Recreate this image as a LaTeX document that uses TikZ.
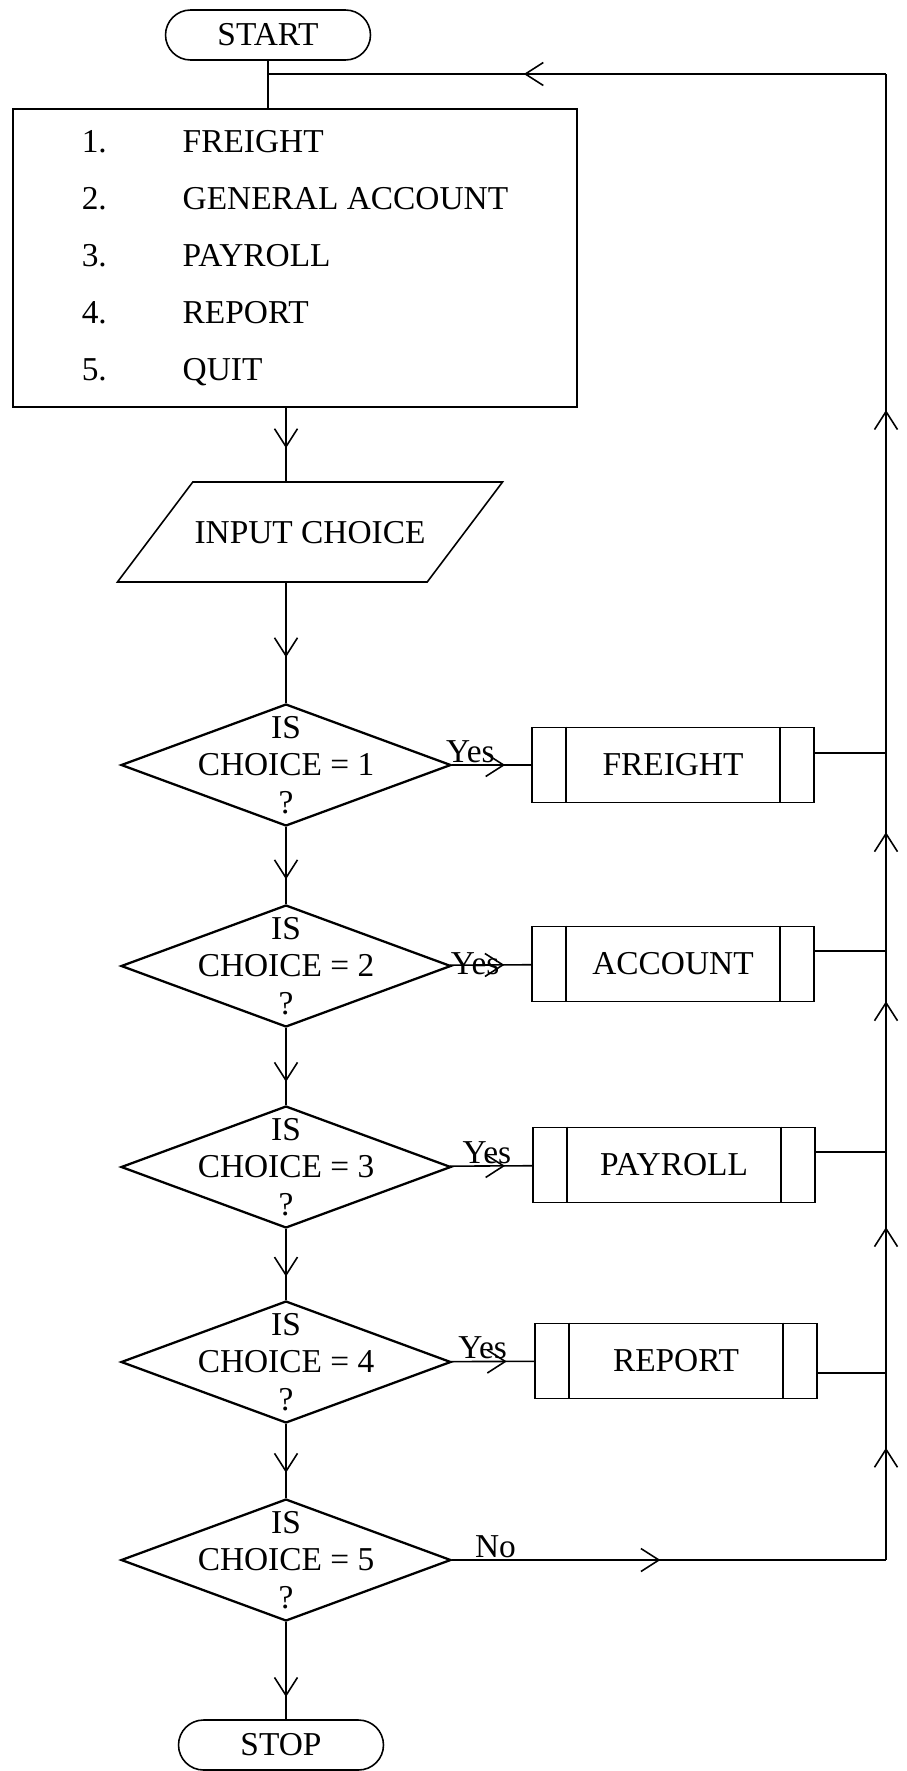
\documentclass[tikz,border=0pt]{standalone}
\usepackage{fontspec}
\setmainfont{Liberation Serif}
\usetikzlibrary{arrows.meta,shapes.geometric,shapes.misc,decorations.markings}

\newcommand{\choice}[1]{IS\\CHOICE = #1\\?}
\newcommand{\menuitem}[2]{\makebox[2.02cm][l]{#1}#2}

\begin{document}
\begin{tikzpicture}[x=0.02cm,
            y=-0.02cm,
            line width=0.9pt,
            every node/.style={font=\fontsize{19}{21.5}\selectfont},
            terminal/.style={draw,rounded rectangle,minimum width=4.1cm,minimum height=1.0cm,inner sep=0pt},
            menubox/.style={draw,rectangle,minimum width=11.28cm,minimum height=5.96cm,
                            align=left,inner sep=0pt,font=\fontsize{19}{32.4}\selectfont},
            inbox/.style={draw,trapezium,trapezium left angle=53,trapezium right angle=127,
                          text height=0.44cm,text depth=0cm,inner xsep=1pt,inner ysep=0.78cm},
            decision/.style={draw,diamond,line width=1.3pt,minimum width=6.6cm,minimum height=2.44cm,inner sep=0pt},
            subproc/.style={draw,rectangle,minimum width=5.64cm,minimum height=1.5cm,inner sep=0pt},
            arrowat/.style={postaction={decorate},
                            decoration={markings,mark=at position #1 with {\arrow{Straight Barb[length=0.36cm,width=0.46cm]}}}},
            answer/.style={above,inner sep=1pt}]

        \useasboundingbox (0,0) rectangle (906,1771);

        \node[terminal]  (start)   at (268,35)   {START};
        \node[menubox]   (menu)    at (295,258)  {\menuitem{1.}{FREIGHT}\\
                                                  \menuitem{2.}{GENERAL ACCOUNT}\\
                                                  \menuitem{3.}{PAYROLL}\\
                                                  \menuitem{4.}{REPORT}\\
                                                  \menuitem{5.}{QUIT}};
        \node[inbox]     (input)   at (310,532)  {INPUT CHOICE};
        \node[decision,label={[align=center]center:\choice{1}}] (d1) at (286,765)  {};
        \node[decision,label={[align=center]center:\choice{2}}] (d2) at (286,966)  {};
        \node[decision,label={[align=center]center:\choice{3}}] (d3) at (286,1167) {};
        \node[decision,label={[align=center]center:\choice{4}}] (d4) at (286,1362) {};
        \node[decision,label={[align=center]center:\choice{5}}] (d5) at (286,1560) {};
        \node[subproc]   (freight) at (673,765)  {FREIGHT};
        \node[subproc]   (account) at (673,964)  {ACCOUNT};
        \node[subproc]   (payroll) at (674,1165) {PAYROLL};
        \node[subproc]   (report)  at (676,1361) {REPORT};
        \node[terminal]  (stop)    at (281,1745) {STOP};

        % side bars of the sub-process boxes
        \foreach \b in {freight,account,payroll,report} {
            \draw ([xshift=0.7cm]\b.north west) -- ([xshift=0.7cm]\b.south west);
            \draw ([xshift=-0.7cm]\b.north east) -- ([xshift=-0.7cm]\b.south east);
        }

        \coordinate (top)  at (268,74);
        \coordinate (rtop) at (886,74);
        \coordinate (j1)   at (886,753);
        \coordinate (j2)   at (886,951);
        \coordinate (j3)   at (886,1152);
        \coordinate (j4)   at (886,1373);
        \coordinate (j5)   at (d5.east -| rtop);

        % main column
        \draw (start) -- (start |- menu.north);
        \draw[arrowat=0.55] (menu.south -| d1) -- (input.north -| d1);
        \draw[arrowat=0.62] (input.south -| d1) -- (d1);
        \draw[arrowat=0.68] (d1) -- (d2);
        \draw[arrowat=0.70] (d2) -- (d3);
        \draw[arrowat=0.67] (d3) -- (d4);
        \draw[arrowat=0.66] (d4) -- (d5);
        \draw[arrowat=0.77] (d5) -- (d5.south |- stop.north);

        % yes branches
        \draw[arrowat=0.67] (d1) -- node[answer,pos=0.23] {Yes} (freight);
        \draw[arrowat=0.67] (d2) -- node[answer,pos=0.31,yshift=-0.25cm] {Yes} (account);
        \draw[arrowat=0.67] (d3) -- node[answer,pos=0.45] {Yes} (payroll);
        \draw[arrowat=0.67] (d4) -- node[answer,pos=0.38] {Yes} (report);
        \draw[arrowat=0.48] (d5) -- node[answer,pos=0.1] {No} (j5);

        % back to the menu
        \draw (freight.east |- j1) -- (j1);
        \draw (account.east |- j2) -- (j2);
        \draw (payroll.east |- j3) -- (j3);
        \draw (report.east |- j4)  -- (j4);
        \draw[arrowat=0.60]  (j5) -- (j4);
        \draw[arrowat=0.66]  (j4) -- (j3);
        \draw[arrowat=0.75]  (j3) -- (j2);
        \draw[arrowat=0.60]  (j2) -- (j1);
        \draw[arrowat=0.505] (j1) -- (rtop);
        \draw[arrowat=0.586] (rtop) -- (top);

\end{tikzpicture}
\end{document}
